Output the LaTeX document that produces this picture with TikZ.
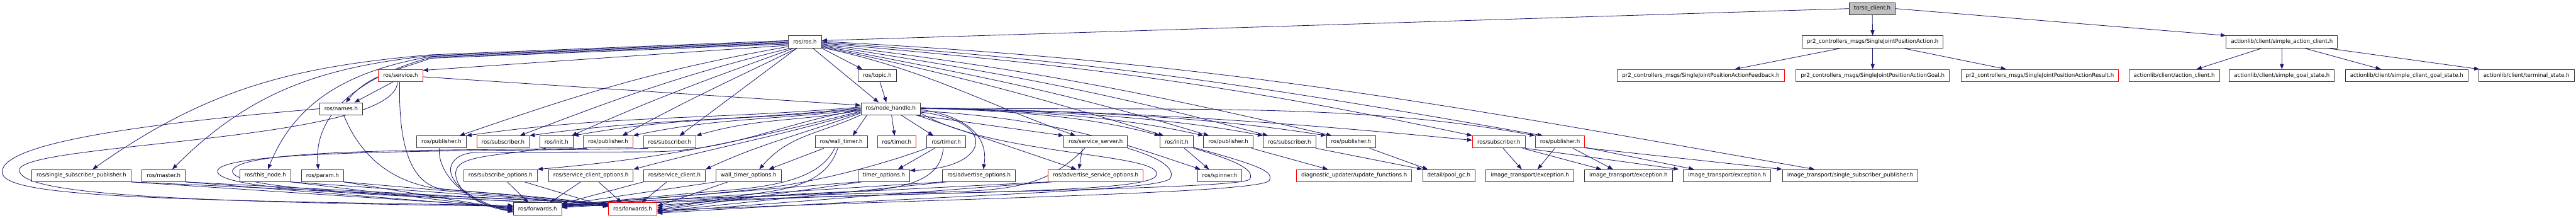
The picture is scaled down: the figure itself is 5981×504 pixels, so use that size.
\documentclass[tikz,border=0pt]{standalone}
\usepackage{fontspec}
\setmainfont{DejaVu Sans}
\usetikzlibrary{arrows.meta,backgrounds}
\definecolor{incblue}{HTML}{191970}
\definecolor{rootgray}{HTML}{BFBFBF}
\begin{document}
\begin{tikzpicture}[
  x=1pt, y=-1pt,
  hdr/.style={draw=black!80,line width=1.3pt,fill=white,inner xsep=11pt,inner ysep=0pt,
    minimum height=28pt,font=\fontsize{12.6}{15}\selectfont},
  cut/.style={hdr,draw=red},
  mainhdr/.style={hdr,fill=rootgray},
  inc/.style={draw=incblue,line width=1.2pt,-{Triangle[length=12pt,width=9pt]}}
]
  \useasboundingbox (0,0) rectangle (5981,504);
  \node[mainhdr] (torso) at (4347,20) {torso\_client.h};
  \node[hdr] (ros) at (1869,97) {ros/ros.h};
  \node[hdr] (sjpa) at (4348,97) {pr2\_controllers\_msgs/SingleJointPositionAction.h};
  \node[hdr] (sac) at (5298,97) {actionlib/client/simple\_action\_client.h};
  \node[cut] (service) at (930,175) {ros/service.h};
  \node[hdr] (topic) at (2037,175) {ros/topic.h};
  \node[cut] (feedback) at (3949,175) {pr2\_controllers\_msgs/SingleJointPositionActionFeedback.h};
  \node[cut] (goal) at (4348,175) {pr2\_controllers\_msgs/SingleJointPositionActionGoal.h};
  \node[cut] (result) at (4736,175) {pr2\_controllers\_msgs/SingleJointPositionActionResult.h};
  \node[cut] (actcl) at (5048,175) {actionlib/client/action\_client.h};
  \node[hdr] (sgstate) at (5298,175) {actionlib/client/simple\_goal\_state.h};
  \node[hdr] (scgstate) at (5588,175) {actionlib/client/simple\_client\_goal\_state.h};
  \node[hdr] (termstate) at (5866,175) {actionlib/client/terminal\_state.h};
  \node[hdr] (names) at (792,252) {ros/names.h};
  \node[hdr] (nh) at (2068,252) {ros/node\_handle.h};
  \node[hdr] (pubA) at (1025,329) {ros/publisher.h};
  \node[cut] (subA) at (1168,329) {ros/subscriber.h};
  \node[hdr] (initA) at (1292,329) {ros/init.h};
  \node[cut] (pubB) at (1412,329) {ros/publisher.h};
  \node[cut] (subB) at (1555,329) {ros/subscriber.h};
  \node[hdr] (wtimer) at (1953,329) {ros/wall\_timer.h};
  \node[cut] (timerA) at (2082,329) {ros/timer.h};
  \node[hdr] (timerB) at (2197,329) {ros/timer.h};
  \node[hdr] (srvserver) at (2544,329) {ros/service\_server.h};
  \node[hdr] (initB) at (2732,329) {ros/init.h};
  \node[hdr] (pubC) at (2852,329) {ros/publisher.h};
  \node[hdr] (subC) at (2994,329) {ros/subscriber.h};
  \node[hdr] (pubD) at (3137,329) {ros/publisher.h};
  \node[cut] (subD) at (3480,329) {ros/subscriber.h};
  \node[cut] (pubE) at (3622,329) {ros/publisher.h};
  \node[hdr] (singlessp) at (189,407) {ros/single\_subscriber\_publisher.h};
  \node[hdr] (master) at (380,407) {ros/master.h};
  \node[hdr] (thisnode) at (616,407) {ros/this\_node.h};
  \node[hdr] (param) at (749,407) {ros/param.h};
  \node[cut] (subopts) at (1162,407) {ros/subscribe\_options.h};
  \node[hdr] (srvclopts) at (1372,407) {ros/service\_client\_options.h};
  \node[hdr] (srvclient) at (1566,407) {ros/service\_client.h};
  \node[hdr] (wtopts) at (1738,407) {wall\_timer\_options.h};
  \node[hdr] (topts) at (2052,407) {timer\_options.h};
  \node[hdr] (advopts) at (2273,407) {ros/advertise\_options.h};
  \node[cut] (advsrvopts) at (2544,407) {ros/advertise\_service\_options.h};
  \node[hdr] (spinner) at (2832,407) {ros/spinner.h};
  \node[cut] (updfun) at (3144,407) {diagnostic\_updater/update\_functions.h};
  \node[hdr] (poolgc) at (3364,407) {detail/pool\_gc.h};
  \node[hdr] (excA) at (3552,407) {image\_transport/exception.h};
  \node[hdr] (excB) at (3781,407) {image\_transport/exception.h};
  \node[hdr] (excC) at (4010,407) {image\_transport/exception.h};
  \node[hdr] (itssp) at (4296,407) {image\_transport/single\_subscriber\_publisher.h};
  \node[hdr] (fwdA) at (1248,484) {ros/forwards.h};
  \node[cut] (fwdB) at (1469,484) {ros/forwards.h};
  \begin{scope}[on background layer]
  \fill[white] (0,0) rectangle (5981,504);
  \draw[inc] (torso.west) -- ([yshift=3pt]ros.east);
  \draw[inc] (torso) -- (sjpa);
  \draw[inc] (torso.east) -- (sac.north west);
  \draw[inc] ([xshift=-73pt]sjpa.south) -- ([xshift=79pt]feedback.north);
  \draw[inc] (sjpa) -- (goal);
  \draw[inc] ([xshift=70pt]sjpa.south) -- ([xshift=-78pt]result.north);
  \draw[inc] ([xshift=-46pt]sac.south) -- ([xshift=52pt]actcl.north);
  \draw[inc] (sac) -- (sgstate);
  \draw[inc] ([xshift=52pt]sac.south) -- ([xshift=-60pt]scgstate.north);
  \draw[inc] ([xshift=105pt]sac.south) -- ([xshift=2pt]termstate.north west);
  \draw[inc] ([yshift=3pt]ros.west) -- (1000,127) .. controls (676,155) and (481,206) .. ([xshift=26pt]singlessp.north);
  \draw[inc] ([yshift=1pt]ros.west) -- (1000,129) .. controls (745,156) and (581,212) .. ([xshift=20pt]master.north);
  \draw[inc] ([yshift=-1pt]ros.west) -- (1000,131) .. controls (823,162) and (689,226) .. ([xshift=6pt]thisnode.north);
  \draw[inc] ([yshift=-3pt]ros.west) -- (1000,133) .. controls (861,170) and (726,250) .. ([xshift=-10pt]param.north);
  \draw[inc] ([yshift=-5pt]ros.west) -- (1000,135) .. controls (918,165) and (859,171) .. ([xshift=11pt]names.north);
  \draw[inc] ([yshift=-8pt]ros.west) -- ([yshift=12pt]service.east);
  \draw[inc] ([yshift=-11pt]ros.west) .. controls (1525,162) and (1359,214) .. ([xshift=42pt]pubA.north);
  \draw[inc] ([xshift=-34pt]ros.south) .. controls (1585,173) and (1448,223) .. ([xshift=39pt]subA.north);
  \draw[inc] ([xshift=-26pt]ros.south) .. controls (1638,186) and (1525,226) .. ([xshift=-4pt]initA.north east);
  \draw[inc] ([xshift=-18pt]ros.south) .. controls (1691,189) and (1601,229) .. ([xshift=33pt]pubB.north);
  \draw[inc] ([xshift=-19pt]ros.south) -- ([xshift=23pt]subB.north);
  \draw[inc] (ros.south east) -- ([xshift=-35pt]topic.north);
  \draw[inc] ([xshift=18pt]ros.south) -- ([xshift=-28pt]nh.north);
  \draw[inc] ([xshift=6pt]topic.south) -- ([xshift=-10pt]nh.north);
  \draw[inc] ([yshift=-13pt]ros.east) .. controls (2148,161) and (2268,232) .. ([xshift=-47pt]srvserver.north);
  \draw[inc] ([yshift=-11pt]ros.east) .. controls (2223,175) and (2395,221) .. ([xshift=-30pt]initB.north);
  \draw[inc] ([yshift=-9pt]ros.east) .. controls (2263,175) and (2462,210) .. ([xshift=-45pt]pubC.north);
  \draw[inc] ([yshift=-7pt]ros.east) .. controls (2317,168) and (2545,208) .. ([xshift=-50pt]subC.north);
  \draw[inc] ([yshift=-5pt]ros.east) .. controls (2377,159) and (2633,209) .. ([xshift=-45pt]pubD.north);
  \draw[inc] ([yshift=-3pt]ros.east) .. controls (2504,152) and (2834,191) .. (subD.north west);
  \draw[inc] ([yshift=-1pt]ros.east) .. controls (2568,144) and (2932,200) .. ([xshift=-40pt]pubE.north);
  \draw[inc] ([yshift=1pt]ros.east) .. controls (2817,143) and (3318,235) .. ([xshift=-83pt]itssp.north);
  \draw[inc] ([yshift=-3pt]service.east) -- ([yshift=8pt]nh.west);
  \draw[inc] ([xshift=-17pt]service.south) -- ([xshift=31pt]names.north);
  \draw[inc] ([yshift=4pt]nh.west) .. controls (1639,279) and (1438,265) .. (pubA.north east);
  \draw[inc] ([yshift=2pt]nh.west) .. controls (1698,282) and (1528,273) .. (subA.north east);
  \draw[inc] (nh.west) .. controls (1736,280) and (1589,269) .. (initA.north east);
  \draw[inc] ([yshift=-2pt]nh.west) .. controls (1791,279) and (1672,272) .. (pubB.north east);
  \draw[inc] ([yshift=-4pt]nh.west) .. controls (1849,282) and (1761,273) .. (subB.north east);
  \draw[inc] ([xshift=-55pt]nh.south) -- ([xshift=27pt]wtimer.north);
  \draw[inc] ([xshift=2pt]nh.south) -- ([xshift=-5pt]timerA.north);
  \draw[inc] ([xshift=24pt]nh.south) -- ([xshift=-30pt]timerB.north);
  \draw[inc] ([yshift=-6pt]nh.west) .. controls (1709,330) and (1546,367) .. (subopts.north east);
  \draw[inc] ([yshift=-8pt]nh.west) .. controls (1793,319) and (1677,338) .. (srvclopts.north east);
  \draw[inc] ([yshift=-10pt]nh.west) .. controls (1857,313) and (1774,330) .. (srvclient.north east);
  \draw[inc] (nh.south west) .. controls (1903,310) and (1831,313) .. ([xshift=25pt]wtopts.north);
  \draw[inc] ([xshift=58pt]nh.south) -- (srvserver.north west);
  \foreach \t/\ca/\cb in {initB/2360/2530,pubC/2400/2600,subC/2450/2700,pubD/2510/2800}
    \draw[inc] ([yshift=2pt]nh.east) .. controls (\ca,258) and (\cb,270) .. (\t.north west);
  \draw[inc] ([yshift=2pt]nh.east) .. controls (2710,258) and (3140,235) .. (pubE.north west);
  \draw[inc] (nh.east) .. controls (2650,256) and (3050,290) .. ([yshift=4pt]subD.west);
  \draw[inc] ([xshift=60pt]nh.south) -- ([xshift=-45pt]advsrvopts.north);
  \draw[inc] ([yshift=-2pt]nh.east) .. controls (2250,270) and (2295,320) .. ([xshift=10pt]advopts.north);
  \draw[inc] ([yshift=-8pt]nh.east) .. controls (2320,280) and (2300,390) .. ([yshift=12pt]topts.east);
  \draw[inc] ([yshift=-5pt]nh.east) .. controls (2450,275) and (2600,330) .. ([xshift=-45pt]spinner.north);
  \draw[inc] ([xshift=-40pt]wtimer.south) -- ([xshift=47pt]wtopts.north);
  \draw[inc] ([xshift=-27pt]timerB.south) -- ([xshift=33pt]topts.north);
  \draw[inc] ([xshift=-31pt]srvserver.south) -- ([xshift=-39pt]advsrvopts.north);
  \draw[inc] ([xshift=18pt]initB.south) -- ([xshift=-25pt]spinner.north);
  \draw[inc] ([xshift=54pt]pubC.south) -- ([xshift=-61pt]updfun.north);
  \draw[inc] (subC.south east) -- (poolgc.north west);
  \draw[inc] ([xshift=43pt]pubD.south) -- ([xshift=-49pt]poolgc.north);
  \draw[inc] ([xshift=10pt]subD.south) -- ([xshift=-19pt]excA.north);
  \draw[inc] ([xshift=55pt]subD.south) -- ([xshift=-63pt]excB.north);
  \draw[inc] (subD.south east) -- ([xshift=-112pt]excC.north);
  \draw[inc] ([xshift=-12pt]pubE.south) -- ([xshift=18pt]excA.north);
  \draw[inc] ([xshift=30pt]pubE.south) -- ([xshift=-36pt]excB.north);
  \draw[inc] ([yshift=2pt]pubE.south east) -- ([xshift=-77pt]excC.north);
  \draw[inc] ([yshift=1pt]pubE.south east) -- (itssp.north west);
  \foreach \s/\k/\m in {singlessp/4/12,master/2/11,thisnode/0/10,param/-2/9} {
    \draw[inc] (\s.south east) -- ([yshift=\k pt]fwdA.west);
    \draw[inc] (\s.south east) -- ([yshift=\m pt]fwdB.west);
  }
  \draw[inc] (names.west) .. controls (350,285) and (0,330) .. (5,400)
    .. controls (10,452) and (300,464) .. ([yshift=8pt]fwdA.west);
  \draw[inc] ([xshift=-7pt]service.south) .. controls (920,330) and (40,330) .. (45,395)
    .. controls (48,450) and (400,468) .. ([yshift=6pt]fwdA.west);
  \draw[inc] ([xshift=6pt]names.south) .. controls (840,370) and (920,430) .. (1040,440)
    .. controls (1150,448) and (1330,462) .. ([yshift=8pt]fwdB.west);
  \draw[inc] ([xshift=-2pt]service.south) .. controls (925,330) and (950,420) .. (1020,437)
    .. controls (1150,450) and (1330,464) .. ([yshift=7pt]fwdB.west);
  \draw[inc] ([xshift=-5pt]pubA.south) .. controls (1015,400) and (1080,472) .. ([yshift=-4pt]fwdA.west);
  \draw[inc] ([xshift=-25pt]initA.south) .. controls (1150,362) and (1060,360) .. (1058,400)
    .. controls (1056,445) and (1120,480) .. ([yshift=-6pt]fwdA.west);
  \draw[inc] ([yshift=-2pt]nh.west) .. controls (1803,288) and (1698,352) .. (1500,352) -- (1110,353)
    .. controls (1020,354) and (1010,440) .. ([yshift=-8pt]fwdA.west);
  \draw[inc] ([xshift=-50pt]pubB.south) .. controls (1100,350) and (560,340) .. (540,395)
    .. controls (530,440) and (900,450) .. ([yshift=6pt]fwdB.west);
  \draw[inc] ([xshift=-50pt]subB.south) .. controls (1200,352) and (525,342) .. (505,395)
    .. controls (495,442) and (900,452) .. ([yshift=8pt]fwdB.west);
  \draw[inc] ([xshift=16pt]subopts.south) -- ([xshift=-21pt]fwdA.north);
  \draw[inc] ([xshift=56pt]subopts.south) -- ([yshift=4pt]fwdB.west);
  \draw[inc] ([xshift=-24pt]srvclopts.south) -- ([xshift=29pt]fwdA.north);
  \draw[inc] ([xshift=18pt]srvclopts.south) -- ([xshift=-26pt]fwdB.north);
  \draw[inc] (srvclient.south west) -- ([yshift=12pt]fwdA.east);
  \draw[inc] ([xshift=-18pt]srvclient.south) -- ([xshift=21pt]fwdB.north);
  \draw[inc] (wtopts.south west) -- ([yshift=10pt]fwdA.east);
  \draw[inc] ([xshift=-48pt]wtopts.south) -- ([yshift=6pt]fwdB.east);
  \draw[inc] ([xshift=-15pt]wtimer.south) .. controls (1910,400) and (1840,428) .. (1700,440)
    .. controls (1550,452) and (1400,468) .. ([yshift=8pt]fwdA.east);
  \draw[inc] ([xshift=-8pt]wtimer.south) .. controls (1925,405) and (1870,432) .. (1780,445)
    .. controls (1660,462) and (1580,478) .. ([yshift=-2pt]fwdB.east);
  \draw[inc] (timerB.south west) .. controls (2040,385) and (1880,425) .. (1760,438)
    .. controls (1600,455) and (1420,466) .. ([yshift=9pt]fwdA.east);
  \draw[inc] ([xshift=-7pt]timerB.south) .. controls (2185,400) and (2140,438) .. (1980,444)
    .. controls (1750,452) and (1600,470) .. ([yshift=2pt]fwdB.east);
  \draw[inc] (topts.south west) -- ([yshift=7pt]fwdA.east);
  \draw[inc] ([xshift=10pt]topts.south west) -- ([yshift=-4pt]fwdB.east);
  \draw[inc] (advopts.south west) -- ([yshift=6pt]fwdA.east);
  \draw[inc] ([xshift=10pt]advopts.south west) -- ([yshift=-6pt]fwdB.east);
  \draw[inc] (advsrvopts.south west) -- ([yshift=5pt]fwdA.east);
  \draw[inc] ([xshift=10pt]advsrvopts.south west) -- ([yshift=-8pt]fwdB.east);
  \draw[inc] ([xshift=-25pt]srvserver.south) .. controls (2440,420) and (2380,440) .. (2200,445)
    .. controls (1800,452) and (1450,462) .. ([yshift=4pt]fwdA.east);
  \draw[inc] (srvserver.south east) .. controls (2690,365) and (2728,388) .. (2718,412)
    .. controls (2705,442) and (2300,447) .. ([yshift=-10pt]fwdB.east);
  \draw[inc] (initB.south east) .. controls (2880,375) and (2912,395) .. (2902,415)
    .. controls (2890,442) and (1900,445) .. ([yshift=3pt]fwdA.east);
  \draw[inc] ([yshift=2pt]initB.south east) .. controls (2930,385) and (2957,398) .. (2947,418)
    .. controls (2935,448) and (2200,460) .. ([yshift=-4pt]fwdB.east);
  \draw[inc] ([yshift=-10pt]nh.east) .. controls (2300,360) and (2700,355) .. (2685,405)
    .. controls (2680,455) and (2000,440) .. ([yshift=8pt]fwdB.east);
  \end{scope}
\end{tikzpicture}
\end{document}
